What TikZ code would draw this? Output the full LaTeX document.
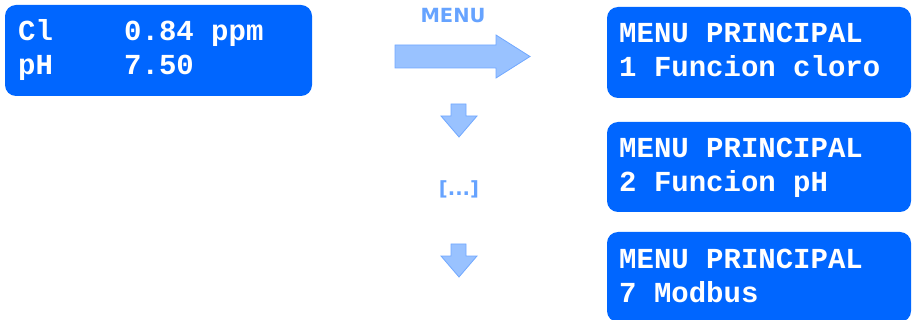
\documentclass[tikz,border=0pt]{standalone}
\usepackage{fontspec}
\newfontfamily\lcdfont[Scale=1]{Liberation Mono}
\newfontfamily\lblfont{DejaVu Sans}
\definecolor{lcdblue}{HTML}{0066FF}
\definecolor{arrfill}{HTML}{99C2FF}
\definecolor{arrline}{HTML}{70A8FF}
\definecolor{lbl}{HTML}{66A3FF}
\tikzset{
  lcdbox/.style={fill=lcdblue, rounded corners=11pt},
  lcdtext/.style={anchor=base west, inner sep=0pt, text=white, font=\lcdfont\bfseries\fontsize{29}{34}\selectfont},
  arrowshape/.style={fill=arrfill, draw=arrline, line width=0.8pt, line join=miter},
  lbltext/.style={text=lbl, font=\lblfont\bfseries\fontsize{19.5}{22}\selectfont, inner sep=0pt}
}
\begin{document}
\begin{tikzpicture}[x=1pt,y=-1pt]
\useasboundingbox (0,0) rectangle (912,320);
% left display
\fill[lcdbox] (5,5) rectangle (312,96);
\node[lcdtext] (l1a) at (18,41) {Cl};
\node[lcdtext] (l1b) at (124,41) {0.84 ppm};
\node[lcdtext] (l2a) at (18,75) {pH};
\node[lcdtext] (l2b) at (124,75) {7.50};
% right displays
\fill[lcdbox] (607,7) rectangle (911,98);
\node[lcdtext] (m1a) at (619,43) {MENU PRINCIPAL};
\node[lcdtext] (m1b) at (619,77) {1 Funcion cloro};
\fill[lcdbox] (607,122) rectangle (911,212);
\node[lcdtext] (m2a) at (619,158) {MENU PRINCIPAL};
\node[lcdtext] (m2b) at (619,192) {2 Funcion pH};
\fill[lcdbox] (607,232) rectangle (911,322);
\node[lcdtext] (m3a) at (619,268) {MENU PRINCIPAL};
\node[lcdtext] (m3b) at (619,302) {7 Modbus};
% MENU arrow
\node[lbltext, anchor=base] (menu) at (453,23) {MENU};
\draw[arrowshape] (395,45) -- (496,45) -- (496,35) -- (530,56.5) -- (496,78) -- (496,68) -- (395,68) -- cycle;
% down arrows
\draw[arrowshape] (451,104) -- (466,104) -- (466,116) -- (477,116) -- (459,137) -- (441,116) -- (451,116) -- cycle;
\node[lbltext, anchor=base] (dots) at (459,196) {[...]};
\draw[arrowshape] (451,244) -- (466,244) -- (466,256) -- (477,256) -- (459,277) -- (441,256) -- (451,256) -- cycle;
\end{tikzpicture}
\end{document}
